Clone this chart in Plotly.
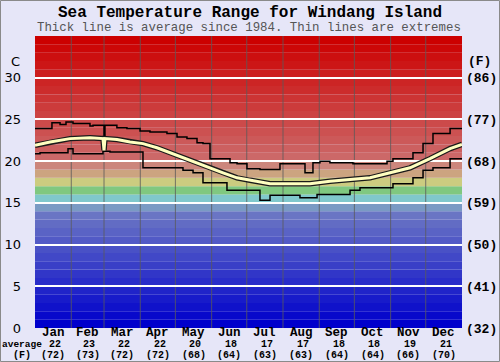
import plotly.graph_objects as go

months = ["Jan", "Feb", "Mar", "Apr", "May", "Jun", "Jul", "Aug", "Sep", "Oct", "Nov", "Dec"]
avg_c = [22, 23, 22, 22, 20, 18, 17, 17, 18, 18, 19, 21]
avg_f = [72, 73, 72, 72, 68, 64, 63, 63, 64, 64, 66, 70]
month_len = [31, 28, 31, 30, 31, 30, 31, 31, 30, 31, 30, 31]

c_ticks = [0, 5, 10, 15, 20, 25, 30]
f_ticks = [32, 41, 50, 59, 68, 77, 86]

# day-of-year / temperature (C)
max_day = [0, 14.5, 21.4, 26.5, 32.5, 47, 49.6, 58.1, 59.0, 59.8, 70, 78.6, 89.8, 98.3, 112.8, 121.4,
           129.9, 138.5, 143.6, 149.6, 166.7, 172.7, 181.2, 192.3, 209.4, 230.8, 237.6, 243.6, 252.1,
           271.8, 300.9, 306, 323.1, 331.7, 340.2, 354.8, 365]
max_t = [23.9, 24.6, 24.4, 24.7, 24.5, 24.2, 24.3, 24.3, 22.2, 24.3, 24.0, 23.9, 23.6, 23.5, 23.3, 22.9,
         22.7, 22.2, 22.1, 20.3, 19.8, 19.7, 19.1, 19.0, 19.7, 18.6, 19.8, 20.0, 19.8,
         19.7, 20.0, 20.3, 21.0, 22.1, 23.3, 23.9, 23.9]

min_day = [0, 4.3, 28.2, 32.5, 58.1, 64.1, 92.3, 126.5, 135.1, 143.6, 164.1, 192.3, 200.9, 226.5,
           241.1, 269.3, 277.8, 306, 323.1, 331.7, 340.2, 354.8, 365]
min_t = [20.9, 21.0, 21.5, 20.9, 21.2, 21.1, 19.2, 18.9, 18.6, 17.4, 16.5, 15.3, 15.9, 15.6,
         16.0, 16.5, 16.8, 17.3, 18.0, 18.9, 19.2, 20.3, 20.3]

avg_day = [0, 12.8, 29.9, 47, 58.1, 59.0, 59.8, 70.1, 81.2, 92.3, 104.3, 115.4, 126.5, 138.5, 149.6,
           160.7, 172.7, 183.8, 200.9, 218, 235.1, 252.2, 269.3, 286.4, 303.5, 320.6, 337.6, 354.8, 365]
avg_t = [21.9, 22.3, 22.7, 22.8, 22.7, 21.3, 22.7, 22.6, 22.3, 22.1, 21.6, 21.0, 20.4, 19.8, 19.2,
         18.6, 18.0, 17.7, 17.3, 17.3, 17.3, 17.6, 17.8, 18.0, 18.6, 19.2, 20.3, 21.5, 22.0]


def band_color(i):
    special = {14: (122, 154, 196), 15: (128, 200, 204), 16: (128, 200, 128), 17: (204, 204, 128),
               18: (204, 164, 128), 19: (204, 134, 124)}
    if i in special:
        r, g, b = special[i]
    elif i < 14:
        r, g, b = i * 8.2, i * 9.0, 204 - i * 0.6
    else:
        v = 104 - (i - 20) * 7.4
        r, g, b = 204, v, v
    return f"rgb({int(r)},{int(g)},{int(b)})"


fig = go.Figure()

L, R, T, B = 35, 38, 36, 34
W, H = 500, 362
pw, ph = W - L - R, H - T - B

shapes = []
for i in range(35):
    shapes.append(dict(type="rect", xref="paper", yref="y", x0=0, x1=1, y0=i, y1=i + 1,
                       fillcolor=band_color(i), line=dict(width=0), layer="below"))
cum = 0
for ml in month_len[:-1]:
    cum += ml
    shapes.append(dict(type="line", xref="x", yref="paper", x0=cum, x1=cum, y0=0, y1=1,
                       line=dict(color="rgba(90,90,90,0.8)", width=1), layer="between"))
# outer frame
shapes.append(dict(type="rect", xref="paper", yref="paper",
                   x0=(0.5 - L) / pw, x1=(W - 0.5 - L) / pw,
                   y0=-(B - 0.5) / ph, y1=(ph + T - 0.5) / ph,
                   line=dict(color="#8a8a8a", width=1)))
fig.update_layout(shapes=shapes)

fig.add_trace(go.Scatter(x=max_day, y=max_t, mode="lines", line=dict(color="black", width=1.5, shape="hv"),
                         hoverinfo="skip", showlegend=False))
fig.add_trace(go.Scatter(x=min_day, y=min_t, mode="lines", line=dict(color="black", width=1.5, shape="hv"),
                         hoverinfo="skip", showlegend=False))
fig.add_trace(go.Scatter(x=avg_day, y=avg_t, mode="lines", line=dict(color="#1a1a1a", width=5.5),
                         hoverinfo="skip", showlegend=False))
fig.add_trace(go.Scatter(x=avg_day, y=avg_t, mode="lines", line=dict(color="#ffffc0", width=3),
                         hoverinfo="skip", showlegend=False))
# invisible trace for F axis
fig.add_trace(go.Scatter(x=[0], y=[32], yaxis="y2", mode="markers", marker=dict(opacity=0),
                         hoverinfo="skip", showlegend=False))

mono = "Liberation Mono, Courier New, monospace"
fig.update_layout(
    width=W, height=H,
    margin=dict(l=L, r=R, t=T, b=B, autoexpand=False),
    paper_bgcolor="#e6e6f8", plot_bgcolor="#e6e6f8",
    xaxis=dict(range=[0, 365], showgrid=False, zeroline=False, showticklabels=False, fixedrange=True,
               automargin=False),
    yaxis=dict(range=[0, 35], tickvals=c_ticks, ticktext=[str(v) for v in c_ticks],
               showgrid=True, gridcolor="white", gridwidth=2, zeroline=False, automargin=False,
               tickfont=dict(family="DejaVu Sans, Verdana, sans-serif", size=13, color="black"),
               ticks="", ticklabelstandoff=13),
    yaxis2=dict(range=[32, 95], overlaying="y", side="right", tickvals=f_ticks, automargin=False,
                ticktext=[f"({v})" for v in f_ticks], showgrid=False, zeroline=False,
                tickfont=dict(family=mono, size=13, color="black", weight="bold"), ticks="",
                ticklabelstandoff=3),
)

ann = []
ann.append(dict(text="<b>Sea Temperature Range for Windang Island</b>", xref="paper", yref="paper",
                x=(250 - L) / pw, y=(H - 13 - B) / ph, xanchor="center", yanchor="middle",
                showarrow=False, font=dict(family=mono, size=16, color="black")))
ann.append(dict(text="Thick line is average since 1984. Thin lines are extremes", xref="paper", yref="paper",
                x=(249 - L) / pw, y=(H - 28 - B) / ph, xanchor="center", yanchor="middle",
                showarrow=False, font=dict(family=mono, size=12.4, color="#555555")))
ann.append(dict(text="C", xref="paper", yref="paper", x=(22 - L) / pw, y=(H - 61 - B) / ph,
                xanchor="right", yanchor="middle", showarrow=False,
                font=dict(family="DejaVu Sans, sans-serif", size=13, color="black")))
ann.append(dict(text="<b>(F)</b>", xref="paper", yref="paper", x=(466 - L) / pw, y=(H - 61 - B) / ph,
                xanchor="left", yanchor="middle", showarrow=False,
                font=dict(family=mono, size=13, color="black")))
ann.append(dict(text="<b>average</b>", xref="paper", yref="paper", x=(0 - L) / pw, y=(H - 344 - B) / ph,
                xanchor="left", yanchor="middle", showarrow=False,
                font=dict(family=mono, size=9.5, color="black")))
ann.append(dict(text="<b>(F)</b>", xref="paper", yref="paper", x=(22 - L) / pw, y=(H - 355 - B) / ph,
                xanchor="center", yanchor="middle", showarrow=False,
                font=dict(family=mono, size=10, color="black")))
cum = 0
for m, c, f, ml in zip(months, avg_c, avg_f, month_len):
    mid = cum + ml / 2
    cum += ml
    ann.append(dict(text=f"<b>{m}</b>", xref="x", yref="paper", x=mid, y=(H - 333 - B) / ph,
                    xanchor="center", yanchor="middle", showarrow=False,
                    font=dict(family=mono, size=12.5, color="black")))
    ann.append(dict(text=f"<b>{c}</b>", xref="x", yref="paper", x=mid + 1.5, y=(H - 344 - B) / ph,
                    xanchor="center", yanchor="middle", showarrow=False,
                    font=dict(family=mono, size=10, color="black")))
    ann.append(dict(text=f"<b>({f})</b>", xref="x", yref="paper", x=mid, y=(H - 355 - B) / ph,
                    xanchor="center", yanchor="middle", showarrow=False,
                    font=dict(family=mono, size=10, color="black")))
fig.update_layout(annotations=ann)

fig.write_html("out.html", config={"displayModeBar": False},
               post_script="document.body.style.margin='0';document.body.style.padding='0';")
